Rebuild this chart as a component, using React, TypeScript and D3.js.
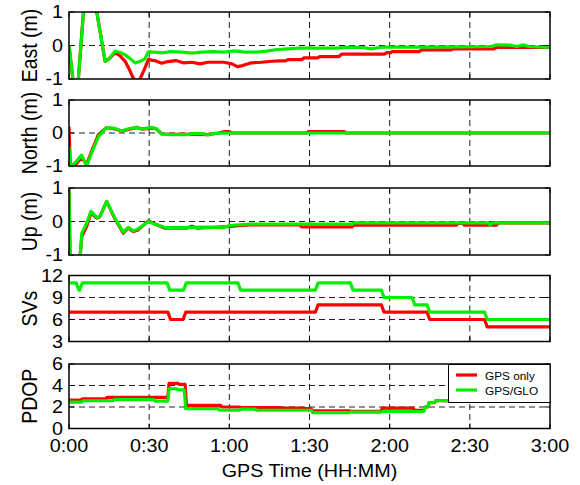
import React from "react";
import * as d3 from "d3";

// ---------- data (time in minutes, values as read) ----------
const xTickValues = [0, 30, 60, 90, 120, 150, 180];
const xTickLabels = ["0:00", "0:30", "1:00", "1:30", "2:00", "2:30", "3:00"];

// East (m)
const eastGpsT = [0, 1.6, 3.3, 6, 8.5, 13.5, 15, 17.2, 19, 21, 22.5, 24, 25, 26.6, 28, 29.7, 32, 34.7, 37, 40, 43, 46, 49, 52, 55, 58, 61, 63, 65, 68, 72, 76, 79, 81, 82, 87, 88, 93, 94, 101, 102, 118, 119, 120.5, 121, 131, 132, 143, 144, 159, 160, 180];
const eastGpsV = [0, -1.1, -1.2, 1.6, 1.9, -0.47, -0.4, -0.22, -0.3, -0.47, -0.7, -0.97, -1.05, -1.0, -0.75, -0.42, -0.45, -0.53, -0.48, -0.45, -0.52, -0.5, -0.55, -0.5, -0.5, -0.5, -0.55, -0.63, -0.6, -0.52, -0.5, -0.47, -0.46, -0.46, -0.42, -0.42, -0.37, -0.37, -0.33, -0.33, -0.26, -0.26, -0.21, -0.21, -0.18, -0.18, -0.13, -0.13, -0.1, -0.1, -0.06, -0.06];
const eastGloT = [0, 1.6, 3.3, 6, 8.5, 13.5, 15, 17.2, 19, 21, 23, 24.7, 26.5, 28.4, 29.7, 32, 35, 38, 42, 46, 50, 54, 58, 62, 66, 70, 74, 78, 82, 86, 100, 105, 110, 113, 116, 118, 130, 145, 158, 160, 165, 167.6, 170, 172, 180];
const eastGloV = [0, -1.1, -1.2, 1.6, 1.9, -0.47, -0.4, -0.17, -0.2, -0.28, -0.4, -0.52, -0.48, -0.4, -0.19, -0.2, -0.22, -0.18, -0.2, -0.23, -0.2, -0.18, -0.2, -0.16, -0.2, -0.2, -0.17, -0.12, -0.1, -0.08, -0.08, -0.05, -0.06, -0.1, -0.06, -0.05, -0.05, -0.04, -0.03, 0.02, 0.01, -0.03, 0.02, -0.03, -0.06];

// North (m)
const northGpsT = [0, 0.5, 2.5, 4.7, 6.6, 8.5, 11, 14, 17.2, 19.7, 22, 25.3, 27.2, 31, 32.6, 34.7, 44.6, 52, 56, 58, 60, 61, 89, 89.5, 103, 103.5, 180];
const northGpsV = [0.19, -1.0, -0.95, -0.75, -0.95, -0.55, -0.05, 0.16, 0.12, 0.06, 0.1, 0.17, 0.12, 0.15, 0.13, -0.03, -0.04, -0.05, 0, 0.04, 0.04, 0, 0, 0.045, 0.045, 0, 0];
const northGloT = [0, 0.4, 2.2, 4.7, 6.6, 8.5, 11, 14, 17.2, 19.7, 22, 25.3, 27.2, 31, 32.6, 34.7, 38, 44.6, 46, 50, 52, 54, 60, 180];
const northGloV = [-0.42, -1.0, -0.92, -0.67, -1.0, -0.6, -0.11, 0.16, 0.14, 0.06, 0.12, 0.17, 0.12, 0.17, 0.13, -0.03, -0.05, -0.05, -0.02, -0.02, -0.06, -0.01, 0, 0];

// Up (m)
const upGpsT = [0, 0.4, 4.1, 4.8, 6.6, 8.2, 10.4, 11.6, 14.1, 17.2, 20.3, 22.2, 24.1, 25.9, 29.7, 31.5, 35.9, 44, 46, 48, 60, 67.7, 86.5, 87, 106, 106.5, 145, 145.5, 147.5, 148, 160, 160.5, 180];
const upGpsV = [1, -1.1, -1.1, -0.45, -0.15, 0.25, 0.1, 0.15, 0.6, 0.08, -0.35, -0.2, -0.3, -0.25, 0.02, -0.05, -0.2, -0.2, -0.14, -0.2, -0.15, -0.1, -0.1, -0.16, -0.16, -0.11, -0.11, -0.06, -0.06, -0.11, -0.11, -0.04, -0.04];
const upGloT = [0, 0.4, 4.1, 4.8, 6.6, 8.2, 10.4, 11.6, 14.1, 17.2, 20.3, 22.2, 24.1, 25.9, 29.7, 31.5, 35.9, 45, 50, 58, 60, 67.7, 106, 106.5, 157, 157.6, 158.3, 180];
const upGloV = [1, -1.1, -1.1, -0.35, -0.05, 0.3, 0.12, 0.15, 0.6, 0.1, -0.32, -0.18, -0.28, -0.22, 0, -0.06, -0.18, -0.18, -0.17, -0.18, -0.12, -0.08, -0.08, -0.04, -0.04, -0.11, -0.04, -0.04];

// SVs (value holds from its change time)
const svGpsT = [0, 37.5, 43.2, 92.7, 117.4, 134.5, 156];
const svGpsV = [7, 6, 7, 8, 7, 6, 5];
const svGloT = [0, 3.2, 4.5, 37.2, 43.4, 63.7, 92.7, 105.8, 117.4, 128.9, 134.5, 156];
const svGloV = [11, 10, 11, 10, 11, 10, 11, 10, 9, 8, 7, 6];

// PDOP (value holds from its change time)
const pdopGpsT = [0, 4.7, 14, 37.2, 41, 43.7, 57, 64, 79, 87.7, 90.8, 105, 117, 129, 133, 134.5, 137];
const pdopGpsV = [2.65, 2.75, 2.9, 4.2, 4.1, 2.15, 2.0, 1.95, 1.9, 1.85, 1.65, 1.6, 1.9, 1.7, 2.0, 2.4, 2.6];
const pdopGloT = [0, 5, 16.6, 32, 37.2, 40.5, 43.4, 56, 64, 70, 79, 91, 105, 117, 133, 134.5, 137];
const pdopGloV = [2.45, 2.58, 2.68, 2.55, 3.7, 3.6, 1.85, 1.7, 1.8, 1.7, 1.7, 1.48, 1.52, 1.58, 2.0, 2.4, 2.6];

const seriesNames = ["GPS only", "GPS/GLO"];

// ---------- helpers ----------
type P = [number, number];
const zip = (t: number[], v: number[]): P[] => t.map((x, i) => [x, v[i]]);
const steps = (t: number[], v: number[], ramp = 0.6): P[] => {
  const out: P[] = [[t[0], v[0]]];
  for (let i = 1; i < t.length; i++) {
    out.push([t[i] - ramp / 2, v[i - 1]]);
    out.push([t[i] + ramp / 2, v[i]]);
  }
  out.push([180, v[v.length - 1]]);
  return out;
};

const RED = "#ff0000";
const GREEN = "#00ee00";
const FONT = "'Liberation Sans', Arial, sans-serif";
const SX = 1.13;

const X0 = 69;
const X1 = 550;

interface Panel {
  label: string;
  top: number;
  h: number;
  domain: [number, number];
  ticks: number[];
  grid: number[];
  gps: P[];
  glo: P[];
  legend?: boolean;
}

const panels: Panel[] = [
  { label: "East (m)", top: 12, h: 67, domain: [-1, 1], ticks: [-1, 0, 1], grid: [0], gps: zip(eastGpsT, eastGpsV), glo: zip(eastGloT, eastGloV) },
  { label: "North (m)", top: 100, h: 66, domain: [-1, 1], ticks: [-1, 0, 1], grid: [0], gps: zip(northGpsT, northGpsV), glo: zip(northGloT, northGloV) },
  { label: "Up (m)", top: 188, h: 67, domain: [-1, 1], ticks: [-1, 0, 1], grid: [0], gps: zip(upGpsT, upGpsV), glo: zip(upGloT, upGloV) },
  { label: "SVs", top: 275.5, h: 66, domain: [3, 12], ticks: [3, 6, 9, 12], grid: [6, 9], gps: steps(svGpsT, svGpsV, 1.0), glo: steps(svGloT, svGloV, 1.0) },
  { label: "PDOP", top: 364, h: 64.5, domain: [0, 6], ticks: [0, 2, 4, 6], grid: [2, 4], gps: steps(pdopGpsT, pdopGpsV, 0.5), glo: steps(pdopGloT, pdopGloV, 0.5), legend: true },
];

const x = d3.scaleLinear().domain([0, 180]).range([X0, X1]);

function STxt(props: { x: number; y: number; size: number; anchor?: string; rotate?: boolean; children: React.ReactNode }) {
  const { x: tx, y: ty, size, anchor = "middle", rotate = false, children } = props;
  return (
    <g transform={`translate(${tx},${ty}) scale(${SX},1)${rotate ? " rotate(-90)" : ""}`}>
      <text x={0} y={0} fontSize={size} fontFamily={FONT} textAnchor={anchor} fill="#000">
        {children}
      </text>
    </g>
  );
}

function PanelView({ p, idx }: { p: Panel; idx: number }) {
  const y = d3.scaleLinear().domain(p.domain).range([p.top + p.h, p.top]);
  const line = d3.line<P>().x((d) => x(d[0])).y((d) => y(d[1]));
  const clipId = `clip${idx}`;
  const last = idx === panels.length - 1;
  return (
    <g>
      <defs>
        <clipPath id={clipId}>
          <rect x={X0} y={p.top} width={X1 - X0} height={p.h} />
        </clipPath>
      </defs>
      <rect x={X0} y={p.top} width={X1 - X0} height={p.h} fill="#fff" />
      {xTickValues.slice(1, -1).map((t) => (
        <line key={"gx" + t} x1={x(t)} x2={x(t)} y1={p.top} y2={p.top + p.h} stroke="#222" strokeWidth={1} strokeDasharray="6,4" />
      ))}
      {p.grid.map((g) => (
        <line key={"gy" + g} x1={X0} x2={X1} y1={y(g)} y2={y(g)} stroke="#222" strokeWidth={1} strokeDasharray="6,4" />
      ))}
      {xTickValues.map((t) => (
        <g key={"xt" + t}>
          <line x1={x(t)} x2={x(t)} y1={p.top + p.h} y2={p.top + p.h - 5} stroke="#000" />
          <line x1={x(t)} x2={x(t)} y1={p.top} y2={p.top + 5} stroke="#000" />
        </g>
      ))}
      {p.ticks.map((t) => (
        <g key={"yt" + t}>
          <line x1={X0} x2={X0 + 5} y1={y(t)} y2={y(t)} stroke="#000" />
          <line x1={X1} x2={X1 - 5} y1={y(t)} y2={y(t)} stroke="#000" />
          <STxt x={63} y={y(t) + 6.2} size={17.5} anchor="end">
            {String(t)}
          </STxt>
        </g>
      ))}
      <g clipPath={`url(#${clipId})`}>
        <path d={line(p.gps) || ""} fill="none" stroke={RED} strokeWidth={3.2} strokeLinejoin="round" />
        <path d={line(p.glo) || ""} fill="none" stroke={GREEN} strokeWidth={3.2} strokeLinejoin="round" />
      </g>
      <rect x={X0} y={p.top} width={X1 - X0} height={p.h} fill="none" stroke="#000" strokeWidth={1.5} />
      <STxt x={37} y={p.top + p.h / 2} size={19.5} rotate>
        {p.label}
      </STxt>
      {last &&
        xTickValues.map((t, i) => (
          <STxt key={"xl" + t} x={x(t)} y={451.5} size={17.5}>
            {xTickLabels[i]}
          </STxt>
        ))}
      {p.legend && (
        <g>
          <rect x={448.5} y={p.top + 0.5} width={X1 - 448.5} height={38} fill="#fff" stroke="#000" strokeWidth={1} />
          <line x1={456} x2={477} y1={375} y2={375} stroke={RED} strokeWidth={3.2} />
          <line x1={456} x2={477} y1={390} y2={390} stroke={GREEN} strokeWidth={3.2} />
          <text x={485} y={379.5} fontSize={11.8} fontFamily={FONT}>{seriesNames[0]}</text>
          <text x={485} y={394.5} fontSize={11.8} fontFamily={FONT}>{seriesNames[1]}</text>
        </g>
      )}
    </g>
  );
}

export default function App() {
  return (
    <svg width={580} height={485} style={{ position: "absolute", left: 0, top: 0, background: "#fff" }}>
      <rect x={0} y={0} width={580} height={485} fill="#fff" />
      {panels.map((p, i) => (
        <PanelView key={p.label} p={p} idx={i} />
      ))}
      <STxt x={(X0 + X1) / 2} y={477} size={17.5}>
        GPS Time (HH:MM)
      </STxt>
    </svg>
  );
}
